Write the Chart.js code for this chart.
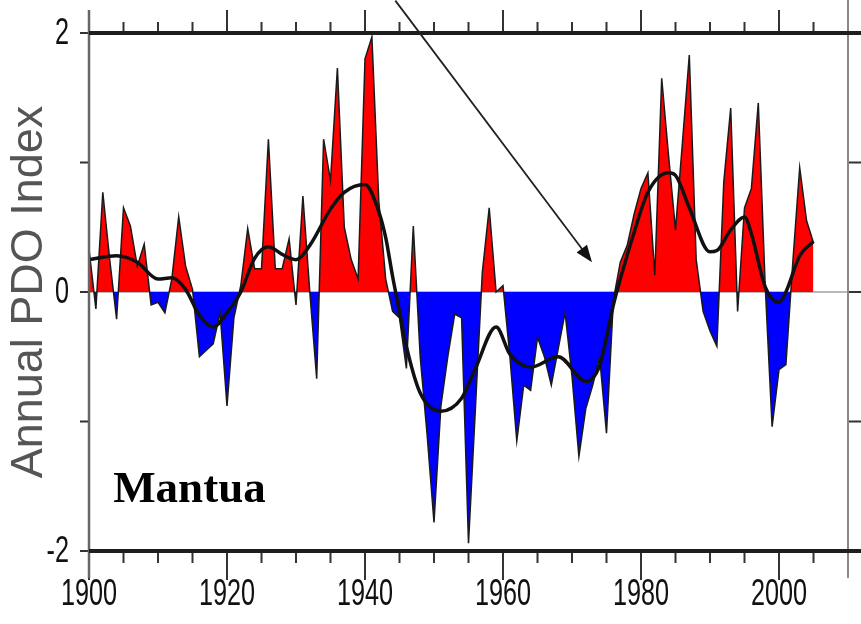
<!DOCTYPE html>
<html>
<head>
<meta charset="utf-8">
<title>Annual PDO Index (Mantua)</title>
<script src="https://cdn.jsdelivr.net/npm/chart.js@4.4.1/dist/chart.umd.min.js"></script>
<style>
  html, body { margin: 0; padding: 0; background: #fff; }
  canvas { display: block; }
</style>
</head>
<body>
<canvas id="pdo" width="861" height="624"></canvas>
<script>
"use strict"

// annual PDO index
const years = [
  1900, 1901, 1902, 1903, 1904, 1905, 1906, 1907, 1908, 1909,
  1910, 1911, 1912, 1913, 1914, 1915, 1916, 1917, 1918, 1919,
  1920, 1921, 1922, 1923, 1924, 1925, 1926, 1927, 1928, 1929,
  1930, 1931, 1932, 1933, 1934, 1935, 1936, 1937, 1938, 1939,
  1940, 1941, 1942, 1943, 1944, 1945, 1946, 1947, 1948, 1949,
  1950, 1951, 1952, 1953, 1954, 1955, 1956, 1957, 1958, 1959,
  1960, 1961, 1962, 1963, 1964, 1965, 1966, 1967, 1968, 1969,
  1970, 1971, 1972, 1973, 1974, 1975, 1976, 1977, 1978, 1979,
  1980, 1981, 1982, 1983, 1984, 1985, 1986, 1987, 1988, 1989,
  1990, 1991, 1992, 1993, 1994, 1995, 1996, 1997, 1998, 1999,
  2000, 2001, 2002, 2003, 2004, 2005
];

const pdoIndex = [
  0.33, -0.13, 0.77, 0.25, -0.21, 0.65, 0.51, 0.20, 0.37, -0.10,
  -0.08, -0.16, 0.10, 0.58, 0.20, 0.02, -0.50, -0.45, -0.40, -0.16,
  -0.88, -0.20, 0.05, 0.49, 0.18, 0.18, 1.18, 0.18, 0.18, 0.41,
  -0.10, 0.74, 0.00, -0.67, 1.18, 0.86, 1.73, 0.50, 0.25, 0.10,
  1.80, 1.97, 0.70, 0.10, -0.15, -0.20, -0.59, 0.51, -0.50, -1.10,
  -1.78, -0.88, -0.50, -0.17, -0.20, -1.94, -0.90, 0.15, 0.65, 0.00,
  0.05, -0.50, -1.15, -0.72, -0.76, -0.35, -0.50, -0.72, -0.44, -0.16,
  -0.65, -1.27, -0.90, -0.72, -0.50, -1.09, -0.06, 0.23, 0.36, 0.60,
  0.80, 0.92, 0.13, 1.65, 1.05, 0.48, 1.15, 1.83, 0.25, -0.15,
  -0.30, -0.42, 0.85, 1.42, -0.15, 0.65, 0.80, 1.46, 0.05, -1.04,
  -0.60, -0.56, 0.23, 0.96, 0.55, 0.38
];

// smoothed (low-pass) curve, read at selected years
const smoothYears = [
  1900, 1904, 1907, 1910, 1912, 1914, 1916, 1918, 1920, 1922,
  1924, 1926, 1928, 1930, 1932, 1935, 1937, 1940, 1942, 1943,
  1944, 1945, 1946, 1948, 1951, 1954, 1956, 1959, 1961, 1964,
  1968, 1972, 1974, 1975, 1976, 1977, 1979, 1981, 1984, 1985,
  1987, 1990, 1991, 1993, 1995, 1996, 1998, 2000, 2001, 2003,
  2005
];
const smoothValues = [
  0.25, 0.28, 0.23, 0.10, 0.11, 0.02, -0.18, -0.27, -0.16, 0.00,
  0.26, 0.35, 0.29, 0.25, 0.36, 0.64, 0.77, 0.83, 0.62, 0.42,
  0.12, -0.15, -0.42, -0.78, -0.92, -0.82, -0.59, -0.27, -0.48, -0.58,
  -0.50, -0.69, -0.57, -0.35, -0.10, 0.10, 0.46, 0.77, 0.92, 0.90,
  0.65, 0.31, 0.32, 0.48, 0.58, 0.45, 0.04, -0.08, 0.00, 0.28,
  0.39
];

// x labels every 20 years, y labels every 2 units
const xLabelYears = [1900, 1920, 1940, 1960, 1980, 2000];
const yLabelValues = [2, 0, -2];

// arrow annotation (data coordinates: tail, head) and panel label
const arrowFrom = [1944.4, 2.25];
const arrowTo = [1972.9, 0.23];
const panelLabel = "Mantua";
const panelLabelAt = [1903.5, -1.62];

// condensed look of the original tick labels
const labelFont = "36px 'Liberation Sans', Arial, sans-serif";
const labelSqueeze = 0.7;

function squeezedText(ctx, text, px, py, align) {
  ctx.save();
  ctx.translate(px, py);
  ctx.scale(labelSqueeze, 1);
  ctx.textAlign = align;
  ctx.fillText(text, 0, 0);
  ctx.restore();
}

const framePlugin = {
  id: "frame",
  beforeDatasetsDraw(chart) {
    const { ctx, chartArea: a, scales: { y } } = chart;
    const y0 = y.getPixelForValue(0);
    ctx.save();
    ctx.strokeStyle = "#a0a0a0";
    ctx.lineWidth = 1.5;
    ctx.beginPath();
    ctx.moveTo(a.left, y0);
    ctx.lineTo(chart.width, y0);
    ctx.stroke();
    ctx.restore();
  },
  afterDraw(chart) {
    const { ctx, chartArea: a, scales: { x, y } } = chart;
    ctx.save();

    // tick marks, outside the box
    ctx.strokeStyle = "#333";
    ctx.lineWidth = 2;
    x.ticks.forEach(t => {
      const px = x.getPixelForValue(t.value);
      const major = t.value % 20 === 0;
      ctx.beginPath();
      ctx.moveTo(px, a.top);
      ctx.lineTo(px, a.top - (major ? 23 : 11));
      ctx.moveTo(px, a.bottom);
      ctx.lineTo(px, a.bottom + (major ? 29 : 12));
      ctx.stroke();
    });
    y.ticks.forEach(t => {
      const py = y.getPixelForValue(t.value);
      ctx.beginPath();
      ctx.moveTo(a.left, py);
      ctx.lineTo(a.left - 9, py);
      ctx.moveTo(a.right, py);
      ctx.lineTo(chart.width, py);
      ctx.stroke();
    });

    // box
    ctx.strokeStyle = "#666";
    ctx.lineWidth = 2.5;
    ctx.beginPath();
    ctx.moveTo(a.left, 10);
    ctx.lineTo(a.left, a.bottom + 27);
    ctx.stroke();
    ctx.strokeStyle = "#888";
    ctx.lineWidth = 2;
    ctx.beginPath();
    ctx.moveTo(a.right, 0);
    ctx.lineTo(a.right, a.bottom + 27);
    ctx.stroke();
    ctx.strokeStyle = "#1e1e1e";
    ctx.lineWidth = 4;
    ctx.beginPath();
    ctx.moveTo(a.left, a.top);
    ctx.lineTo(chart.width, a.top);
    ctx.moveTo(a.left, a.bottom);
    ctx.lineTo(chart.width, a.bottom);
    ctx.stroke();

    // tick labels
    ctx.fillStyle = "#111";
    ctx.font = labelFont;
    ctx.textBaseline = "alphabetic";
    xLabelYears.forEach(v => squeezedText(ctx, String(v), x.getPixelForValue(v), 605, "center"));
    ctx.textBaseline = "middle";
    yLabelValues.forEach(v => squeezedText(ctx, String(v), a.left - 20, y.getPixelForValue(v) + 1, "right"));

    // arrow
    const x1 = x.getPixelForValue(arrowFrom[0]), y1 = y.getPixelForValue(arrowFrom[1]);
    const x2 = x.getPixelForValue(arrowTo[0]), y2 = y.getPixelForValue(arrowTo[1]);
    const ang = Math.atan2(y2 - y1, x2 - x1);
    ctx.strokeStyle = "#222";
    ctx.fillStyle = "#111";
    ctx.lineWidth = 1.8;
    ctx.beginPath();
    ctx.moveTo(x1, y1);
    ctx.lineTo(x2 - 10 * Math.cos(ang), y2 - 10 * Math.sin(ang));
    ctx.stroke();
    ctx.beginPath();
    ctx.moveTo(x2, y2);
    ctx.lineTo(x2 - 17 * Math.cos(ang) + 6.5 * Math.sin(ang), y2 - 17 * Math.sin(ang) - 6.5 * Math.cos(ang));
    ctx.lineTo(x2 - 17 * Math.cos(ang) - 6.5 * Math.sin(ang), y2 - 17 * Math.sin(ang) + 6.5 * Math.cos(ang));
    ctx.closePath();
    ctx.fill();

    // panel label
    ctx.fillStyle = "#000";
    ctx.font = "bold 45px 'Liberation Serif', 'Times New Roman', serif";
    ctx.textAlign = "left";
    ctx.textBaseline = "alphabetic";
    ctx.fillText(panelLabel, x.getPixelForValue(panelLabelAt[0]), y.getPixelForValue(panelLabelAt[1]));

    ctx.restore();
  }
};

const data = {
  datasets: [
    {
      label: "smoothed",
      data: smoothYears.map((yr, i) => ({ x: yr, y: smoothValues[i] })),
      borderColor: "#111",
      borderWidth: 3.5,
      pointRadius: 0,
      cubicInterpolationMode: "monotone",
      fill: false,
      order: 0
    },
    {
      label: "Annual PDO Index",
      data: years.map((yr, i) => ({ x: yr, y: pdoIndex[i] })),
      borderColor: "#1a1a1a",
      borderWidth: 1.5,
      pointRadius: 0,
      tension: 0,
      fill: { target: "origin", above: "#ff0000", below: "#0000ff" },
      order: 1
    }
  ]
};

const config = {
  type: "line",
  data: data,
  options: {
    responsive: false,
    animation: false,
    devicePixelRatio: 1,
    layout: { padding: { top: 33, right: 13, left: 0, bottom: 0 } },
    plugins: {
      legend: { display: false },
      tooltip: { enabled: false }
    },
    scales: {
      x: {
        type: "linear",
        min: 1900,
        max: 2010,
        afterFit: s => { s.height = 73; },
        grid: { display: false, drawTicks: false },
        border: { display: false },
        ticks: { stepSize: 5, autoSkip: false, maxRotation: 0, display: false }
      },
      y: {
        type: "linear",
        min: -2,
        max: 2,
        afterFit: s => { s.width = 89; },
        grid: { display: false, drawTicks: false },
        border: { display: false },
        ticks: { stepSize: 1, display: false },
        title: {
          display: true,
          text: "Annual PDO Index",
          color: "#555",
          padding: { top: 3, bottom: 0 },
          font: { family: "'Liberation Sans', Arial, sans-serif", size: 45 }
        }
      }
    }
  },
  plugins: [framePlugin]
};

const canvas = document.querySelector("#pdo");
const chart = new Chart(canvas, config);
</script>
</body>
</html>
